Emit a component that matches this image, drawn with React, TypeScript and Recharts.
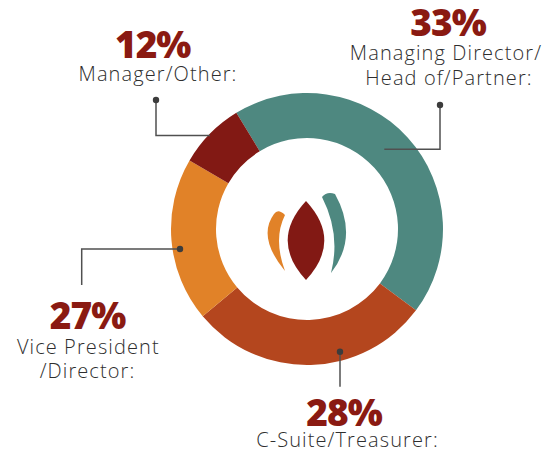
import React from "react";
import { PieChart, Pie, Cell } from "recharts";

// Categories (clockwise from the top-left boundary)
const categories = ["Managing Director/Head of/Partner", "C-Suite/Treasurer", "Vice President/Director", "Manager/Other"];
// Arc sizes as drawn in the picture (share of the ring, %)
const arcValues = [43.9, 28.7, 19.5, 7.9];
// Percentages printed in the labels
const labelPercents = ["33%", "28%", "27%", "12%"];
// Label text lines
const labelLines = [
  ["Managing Director/", "Head of/Partner:"],
  ["C-Suite/Treasurer:"],
  ["Vice President", "/Director:"],
  ["Manager/Other:"],
];

const colors = ["#4E8880", "#B4461E", "#E18228", "#821914"];
const pctColor = "#8A1A12";
const textColor = "#2E2E2E";
const lineColor = "#505050";

const data = categories.map((name, i) => ({ name, value: arcValues[i] }));

// Annotation layout, offsets from the pie centre
type Layout = {
  path: [number, number][];
  pct: [number, number];
  lines: [number, number][];
};
const layouts: Layout[] = [
  { path: [[133, -124], [133, -79.7], [77.3, -79.7]], pct: [141, -193], lines: [[139, -169], [142, -144]] },
  { path: [[33, 122.7], [33, 157.7]], pct: [37, 197], lines: [[40.5, 218]] },
  { path: [[-127, 20], [-225.3, 20], [-225.3, 56]], pct: [-219.5, 100], lines: [[-218.7, 124.8], [-219.5, 149]] },
  { path: [[-151, -129], [-151, -93.5], [-97, -93.5]], pct: [-154.3, -171], lines: [[-149, -148]] },
];

const nameFont = "'Open Sans', sans-serif";
const pctFont = "'Open Sans', sans-serif";

const Logo = ({ cx, cy }: { cx: number; cy: number }) => {
  const t = (dx: number, dy: number) => `${cx + dx} ${cy + dy}`;
  const lens = `M ${t(-1, -28)} Q ${t(35.6, 11.5)} ${t(-1, 51)} Q ${t(-37.6, 11.5)} ${t(-1, -28)} Z`;
  const orange = `M ${t(-22, 42)} Q ${t(-50, 8)} ${t(-33, -15)} Q ${t(-29, -21)} ${t(-22, -14)} Q ${t(-34, 10)} ${t(-22, 42)} Z`;
  const teal = `M ${t(24, 44)} Q ${t(52, 8)} ${t(28, -35)} Q ${t(20, -38)} ${t(15, -32)} Q ${t(34, 5)} ${t(24, 44)} Z`;
  return (
    <g>
      <path d={orange} fill="#E18228" />
      <path d={lens} fill="#821914" />
      <path d={teal} fill="#4E8880" />
    </g>
  );
};

const renderLabel = (props: any) => {
  const { cx, cy, index } = props;
  const lay = layouts[index];
  const pts = lay.path.map(([dx, dy]) => `${cx + dx},${cy + dy}`).join(" ");
  const [dotX, dotY] = lay.path[0];
  return (
    <g key={`lab-${index}`}>
      {index === 0 && <Logo cx={cx} cy={cy} />}
      <polyline points={pts} fill="none" stroke={lineColor} strokeWidth={1.5} />
      <circle cx={cx + dotX} cy={cy + dotY} r={3.2} fill="#3C3C3C" />
      <text
        x={cx + lay.pct[0]}
        y={cy + lay.pct[1]}
        textAnchor="middle"
        fill={pctColor}
        fontFamily={pctFont}
        fontWeight={800}
        fontSize={37}
        letterSpacing={-1}
      >
        {labelPercents[index]}
      </text>
      {labelLines[index].map((ln, j) => (
        <text
          key={j}
          x={cx + lay.lines[j][0]}
          y={cy + lay.lines[j][1]}
          textAnchor="middle"
          fill={textColor}
          fontFamily={nameFont}
          fontWeight={300}
          fontSize={20}
          letterSpacing={1.1}
        >
          {ln}
        </text>
      ))}
    </g>
  );
};

export default function App() {
  return (
    <div style={{ position: "absolute", left: 0, top: 0, width: 545, height: 454, background: "#fff" }}>
      <PieChart width={545} height={454} margin={{ top: 0, right: 0, bottom: 0, left: 0 }}>
        <Pie
          data={data}
          dataKey="value"
          nameKey="name"
          cx={307}
          cy={229}
          innerRadius={91}
          outerRadius={136}
          startAngle={121.3}
          endAngle={-238.7}
          stroke="none"
          label={renderLabel}
          labelLine={false}
          isAnimationActive={false}
        >
          {data.map((d, i) => (
            <Cell key={d.name} fill={colors[i]} />
          ))}
        </Pie>
      </PieChart>
    </div>
  );
}
